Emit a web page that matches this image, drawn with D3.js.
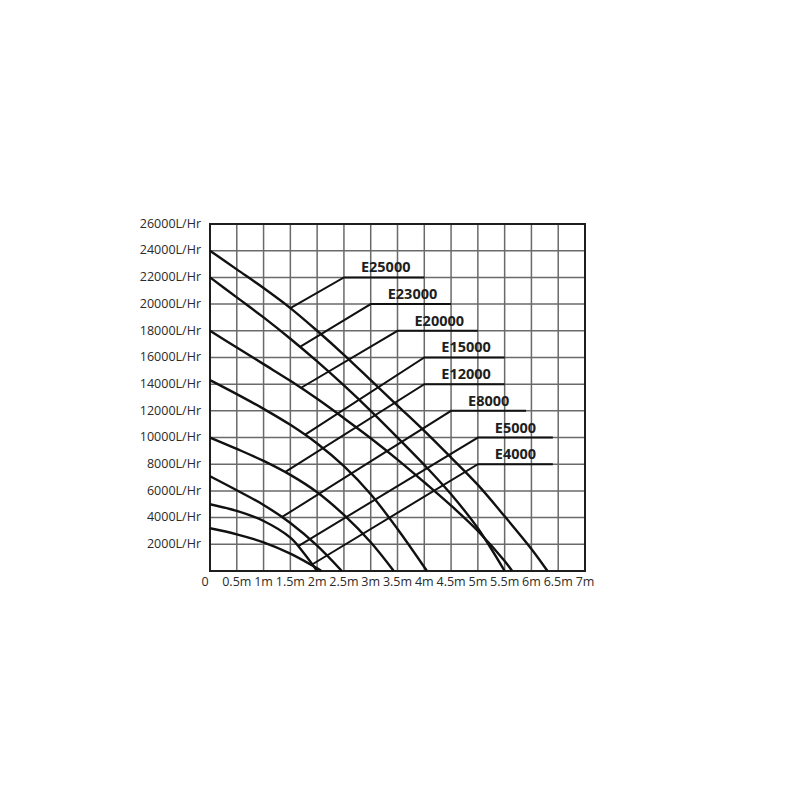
<html>
<head>
    <style>
        body { margin: 0; background: #fff; }
        .grid line { stroke: #6a6a6a; stroke-width: 1.5; }
        .frame { fill: none; stroke: #1e1e1e; stroke-width: 2; }
        .curve { fill: none; stroke: #111; stroke-width: 2.4; }
        .leader { fill: none; stroke: #111; stroke-width: 2; }
        .tick-label { font-family: "Open Sans", sans-serif; font-size: 12.5px; fill: #2a2a2a; }
        .model { font-family: "Open Sans", sans-serif; font-weight: bold; font-size: 14.5px; fill: #1e1e1e; }
    </style>
    <script src="https://d3js.org/d3.v7.min.js"></script>
</head>
<body>
<svg width="800" height="800"></svg>
<script>

    // pump models, curves are [head in m, flow in L/Hr]
    var models = ["E25000", "E23000", "E20000", "E15000", "E12000", "E8000", "E5000", "E4000"];

    var e25000 = [[0,24000],[0.5,22600],[1,21200],[1.5,19700],[2,18000],[2.5,16200],[3,14300],[3.5,12400],[4,10500],[4.5,8500],[5,6450],[5.5,4100],[6,1650],[6.3,0]];
    var e23000 = [[0,22000],[0.5,20500],[1,19000],[1.5,17400],[2,15700],[2.5,13900],[3,12000],[3.5,10000],[4,7950],[4.5,5750],[5,3200],[5.5,0]];
    var e20000 = [[0,18000],[0.5,16750],[1,15500],[1.5,14250],[2,12900],[2.5,11450],[3,9950],[3.5,8350],[4,6650],[4.5,4900],[5,3000],[5.5,750],[5.64,0]];
    var e15000 = [[0,14300],[0.5,13250],[1,12150],[1.5,10950],[2,9550],[2.5,7850],[3,5750],[3.5,3150],[4.05,0]];
    var e12000 = [[0,10000],[0.5,9150],[1,8250],[1.5,7200],[2,5900],[2.5,4200],[3,2150],[3.43,0]];
    var e8000  = [[0,7100],[0.5,6050],[1,4950],[1.5,3600],[2,1900],[2.46,0]];
    var e5000  = [[0,5000],[0.5,4500],[1,3750],[1.5,2500],[1.75,1350],[2,0]];
    var e4000  = [[0,3200],[0.5,2750],[1,2150],[1.5,1300],[2,200],[2.08,0]];

    var curves = [e25000, e23000, e20000, e15000, e12000, e8000, e5000, e4000];

    // label leaders: point on the curve, elbow, and where the flat part stops (head)
    var leaderFrom   = [[1.5,19700],[1.68,16800],[1.71,13750],[1.77,10200],[1.4,7410],[1.34,4030],[1.64,1850],[1.89,450]];
    var leaderCorner = [[2.5,22000],[3,20000],[3.5,18000],[4,16000],[4,14000],[4.5,12000],[5,10000],[5,8000]];
    var leaderEnd    = [4, 4.5, 5, 5.5, 5.5, 5.9, 6.4, 6.4];

    var xTicks = [0, 0.5, 1, 1.5, 2, 2.5, 3, 3.5, 4, 4.5, 5, 5.5, 6, 6.5, 7];
    var xLabels = ["0", "0.5m", "1m", "1.5m", "2m", "2.5m", "3m", "3.5m", "4m", "4.5m", "5m", "5.5m", "6m", "6.5m", "7m"];
    var yTicks = [2000, 4000, 6000, 8000, 10000, 12000, 14000, 16000, 18000, 20000, 22000, 24000, 26000];
    var yLabels = ["2000L/Hr", "4000L/Hr", "6000L/Hr", "8000L/Hr", "10000L/Hr", "12000L/Hr", "14000L/Hr",
                   "16000L/Hr", "18000L/Hr", "20000L/Hr", "22000L/Hr", "24000L/Hr", "26000L/Hr"];

    var svg = d3.select("svg"),
        marginLeft = 210, marginTop = 224,
        width = 375, height = 347;

    var x = d3.scaleLinear().domain([0, 7]).range([0, width]),
        y = d3.scaleLinear().domain([0, 26000]).range([height, 0]);

    var g = svg.append("g")
        .attr("transform", "translate(" + marginLeft + "," + marginTop + ")");

    // grid
    var grid = g.append("g").attr("class", "grid");
    grid.selectAll(".vx")
        .data(xTicks)
        .enter().append("line")
        .attr("x1", function(d) { return x(d); })
        .attr("x2", function(d) { return x(d); })
        .attr("y1", 0)
        .attr("y2", height);
    grid.selectAll(".hy")
        .data(yTicks)
        .enter().append("line")
        .attr("x1", 0)
        .attr("x2", width)
        .attr("y1", function(d) { return y(d); })
        .attr("y2", function(d) { return y(d); });

    g.append("rect")
        .attr("class", "frame")
        .attr("width", width)
        .attr("height", height);

    // y labels
    g.selectAll(".ylab")
        .data(yTicks)
        .enter().append("text")
        .attr("class", "tick-label")
        .attr("x", -9)
        .attr("y", function(d) { return y(d); })
        .attr("dy", "0.3em")
        .attr("text-anchor", "end")
        .text(function(d, i) { return yLabels[i]; });

    // x labels
    g.selectAll(".xlab")
        .data(xTicks)
        .enter().append("text")
        .attr("class", "tick-label")
        .attr("x", function(d) { return d == 0 ? x(d) - 5 : x(d); })
        .attr("y", height + 15)
        .attr("text-anchor", "middle")
        .text(function(d, i) { return xLabels[i]; });

    var line = d3.line()
        .x(function(d) { return x(d[0]); })
        .y(function(d) { return y(d[1]); })
        .curve(d3.curveCatmullRom.alpha(0.5));

    g.selectAll(".curve")
        .data(curves)
        .enter().append("path")
        .attr("class", "curve")
        .attr("d", line);

    var straight = d3.line()
        .x(function(d) { return x(d[0]); })
        .y(function(d) { return y(d[1]); });

    g.selectAll(".leader")
        .data(models)
        .enter().append("path")
        .attr("class", "leader")
        .attr("d", function(d, i) {
            return straight([leaderFrom[i], leaderCorner[i], [leaderEnd[i], leaderCorner[i][1]]]);
        });

    g.selectAll(".model")
        .data(models)
        .enter().append("text")
        .attr("class", "model")
        .attr("x", function(d, i) { return x(leaderCorner[i][0]) + 17; })
        .attr("y", function(d, i) { return y(leaderCorner[i][1]) - 5; })
        .text(function(d) { return d; });

</script>
</body>
</html>
